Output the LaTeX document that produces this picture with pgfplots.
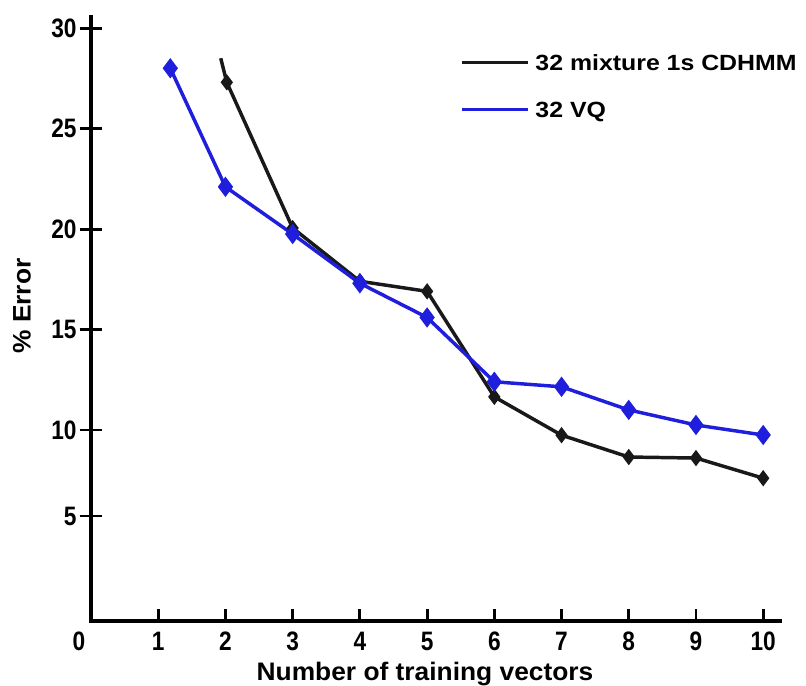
\documentclass[border=0pt]{standalone}
\usepackage{fontspec}
\setmainfont{Liberation Sans}
\newfontfamily\tickfont[FakeStretch=0.85]{Liberation Sans}
\newfontfamily\legfont[FakeStretch=1.13]{Liberation Sans}
\newfontfamily\labfont[FakeStretch=1.04]{Liberation Sans}
\usepackage{pgfplots}
\pgfplotsset{compat=1.18}
\definecolor{vqblue}{RGB}{30,30,220}
\definecolor{hmmblack}{RGB}{25,25,25}

\begin{document}
\begin{tikzpicture}
\useasboundingbox (-68.25pt,-48pt) rectangle (536.25pt,465.75pt);
\begin{axis}[
  at={(0pt,0pt)}, anchor=south west,
  scale only axis, width=516.75pt, height=453pt,
  xmin=0, xmax=10.25, ymin=0, ymax=30.55,
  y coord trafo/.code={\pgfmathparse{#1<5 ? #1*21 : (#1<10 ? 105+(#1-5)*17.2 : 191+(#1-10)*20.1)}},
  axis x line=bottom, axis y line=left,
  axis line style={-, line width=2.5pt, black, line cap=rect},
  /pgf/number format/assume math mode=true,
  xtick={1,2,3,4,5,6,7,8,9,10},
  xticklabels={1,2,3,4,5,6,7,8,9,10},
  ytick={5,10,15,20,25,30},
  yticklabels={5,10,15,20,25,30},
  extra x ticks={0},
  extra x tick labels={0},
  extra x tick style={xticklabel style={xshift=-9pt}},
  xtick align=inside,
  ytick align=center,
  xtick style={line width=2.2pt, black, /pgfplots/major tick length=9pt},
  ytick style={line width=2.2pt, black, /pgfplots/major tick length=17.25pt},
  ticklabel style={font=\fontsize{20}{20}\tickfont\bfseries, inner sep=0pt},
  xticklabel style={anchor=north, yshift=-8.25pt},
  yticklabel style={anchor=east, xshift=-8.5pt},
  xlabel={Number of training vectors},
  ylabel={\% Error},
  xlabel style={at={(axis description cs:0.4848,-0.0977)}, anchor=base, inner sep=0pt,
    font=\fontsize{19}{19}\labfont\bfseries},
  ylabel style={at={(axis description cs:-0.1001,0.5215)}, anchor=center, inner sep=0pt,
    font=\fontsize{19}{19}\labfont\bfseries},
  legend style={at={(axis description cs:0.5356,0.8858)}, anchor=west,
    draw=none, fill=none, inner sep=0pt, row sep=23.25pt,
    font=\fontsize{16.5}{16.5}\legfont\bfseries,
    nodes={inner sep=0pt, text height=12pt, text depth=0pt}},
  legend cell align=left,
  legend image code/.code={\draw[#1, line width=2.2pt] (0pt,0pt) -- (49.5pt,0pt); \path (54pt,0pt);},
  clip=false,
]
\addplot[color=hmmblack, line width=2.6pt, mark=diamond*, mark size=4pt,
  mark indices={2,3,4,5,6,7,8,9,10}, mark options={solid}] coordinates {
  (1.93,28.5) (2.02,27.3) (3,20.05) (4,17.4) (5,16.9) (6,11.65)
  (7,9.7) (8,8.43) (9,8.37) (10,7.2)
};
\addlegendentry[text=black]{32 mixture 1s CDHMM}
\addplot[color=vqblue, line width=2.6pt, mark=diamond*, mark size=5.5pt,
  mark options={solid}] coordinates {
  (1.18,28.0) (2,22.1) (3,19.75) (4,17.3) (5,15.6) (6,12.4)
  (7,12.15) (8,11.0) (9,10.25) (10,9.71)
};
\addlegendentry[text=black]{32 VQ}
\end{axis}
\end{tikzpicture}
\end{document}
